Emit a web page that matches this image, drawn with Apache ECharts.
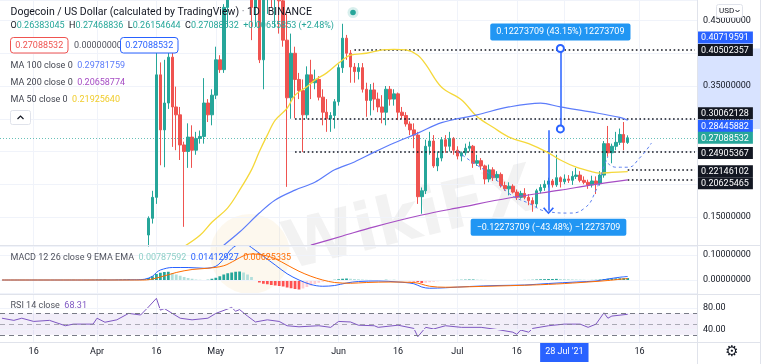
<!DOCTYPE html>
<html>
<head>
<meta charset="utf-8">
<script src="https://cdn.jsdelivr.net/npm/echarts@6.0.0/dist/echarts.min.js"></script>
<style>
html,body{margin:0;padding:0;background:#fff;overflow:hidden}
#chart{width:766px;height:364px}
</style>
</head>
<body>
<div id="chart"></div>
<script>
// ================= DATA =================
const firstDay = [2021, 2, 8];          // 8 Mar 2021 (UTC, month 0-based)
const dayCount = 176;                    // days shown on the time axis

// time-axis labels: date -> text
const tickLabels = {
  '2021-03-16': '16', '2021-04-01': 'Apr', '2021-04-16': '16', '2021-05-01': 'May',
  '2021-05-17': '17', '2021-06-01': 'Jun', '2021-06-16': '16', '2021-07-01': 'Jul',
  '2021-07-16': '16', '2021-07-28': "28 Jul '21", '2021-08-16': '16'
};
const crosshairDay = '2021-07-28';

// daily candles: [date, open, high, low, close]
const candles = [
  ['2021-04-14',0.1225,0.151,0.105,0.148],
  ['2021-04-15',0.148,0.19,0.14,0.18],
  ['2021-04-16',0.18,0.41,0.17,0.367],
  ['2021-04-17',0.367,0.386,0.229,0.283],
  ['2021-04-18',0.283,0.39,0.226,0.324],
  ['2021-04-19',0.324,0.405,0.315,0.394],
  ['2021-04-20',0.394,0.402,0.257,0.318],
  ['2021-04-21',0.318,0.349,0.252,0.306],
  ['2021-04-22',0.306,0.318,0.237,0.26],
  ['2021-04-23',0.26,0.265,0.135,0.25],
  ['2021-04-24',0.25,0.293,0.225,0.272],
  ['2021-04-25',0.272,0.29,0.225,0.252],
  ['2021-04-26',0.252,0.28,0.245,0.27],
  ['2021-04-27',0.27,0.282,0.262,0.273],
  ['2021-04-28',0.273,0.362,0.262,0.324],
  ['2021-04-29',0.324,0.33,0.295,0.306],
  ['2021-04-30',0.306,0.345,0.29,0.336],
  ['2021-05-01',0.336,0.41,0.33,0.39],
  ['2021-05-02',0.39,0.397,0.37,0.375],
  ['2021-05-03',0.375,0.475,0.37,0.47],
  ['2021-05-04',0.47,0.60,0.44,0.56],
  ['2021-05-05',0.56,0.64,0.50,0.58],
  ['2021-05-06',0.58,0.67,0.55,0.63],
  ['2021-05-07',0.63,0.70,0.60,0.68],
  ['2021-05-08',0.68,0.74,0.62,0.73],
  ['2021-05-09',0.73,0.74,0.52,0.57],
  ['2021-05-10',0.57,0.60,0.42,0.47],
  ['2021-05-11',0.47,0.52,0.44,0.50],
  ['2021-05-12',0.50,0.52,0.385,0.39],
  ['2021-05-13',0.39,0.52,0.345,0.50],
  ['2021-05-14',0.50,0.58,0.46,0.56],
  ['2021-05-15',0.56,0.58,0.47,0.50],
  ['2021-05-16',0.50,0.55,0.44,0.52],
  ['2021-05-17',0.52,0.53,0.43,0.48],
  ['2021-05-18',0.48,0.51,0.41,0.42],
  ['2021-05-19',0.42,0.46,0.196,0.332],
  ['2021-05-20',0.332,0.43,0.30,0.40],
  ['2021-05-21',0.40,0.41,0.3006,0.36],
  ['2021-05-22',0.36,0.37,0.33,0.343],
  ['2021-05-23',0.343,0.36,0.2491,0.306],
  ['2021-05-24',0.306,0.38,0.30,0.367],
  ['2021-05-25',0.367,0.39,0.33,0.355],
  ['2021-05-26',0.355,0.375,0.345,0.36],
  ['2021-05-27',0.36,0.365,0.328,0.333],
  ['2021-05-28',0.333,0.345,0.29,0.31],
  ['2021-05-29',0.31,0.33,0.28,0.30],
  ['2021-05-30',0.30,0.31,0.28,0.305],
  ['2021-05-31',0.305,0.33,0.285,0.326],
  ['2021-06-01',0.326,0.383,0.32,0.378],
  ['2021-06-02',0.378,0.445,0.37,0.423],
  ['2021-06-03',0.423,0.428,0.39,0.40],
  ['2021-06-04',0.40,0.405,0.355,0.379],
  ['2021-06-05',0.379,0.385,0.355,0.372],
  ['2021-06-06',0.372,0.385,0.36,0.378],
  ['2021-06-07',0.378,0.385,0.34,0.345],
  ['2021-06-08',0.345,0.355,0.303,0.328],
  ['2021-06-09',0.328,0.353,0.305,0.344],
  ['2021-06-10',0.344,0.355,0.313,0.33],
  ['2021-06-11',0.33,0.34,0.31,0.318],
  ['2021-06-12',0.318,0.336,0.293,0.31],
  ['2021-06-13',0.31,0.35,0.29,0.345],
  ['2021-06-14',0.345,0.35,0.32,0.33],
  ['2021-06-15',0.33,0.345,0.32,0.338],
  ['2021-06-16',0.338,0.34,0.298,0.31],
  ['2021-06-17',0.31,0.318,0.30,0.305],
  ['2021-06-18',0.305,0.31,0.288,0.292],
  ['2021-06-19',0.292,0.296,0.275,0.283],
  ['2021-06-20',0.283,0.293,0.255,0.275],
  ['2021-06-21',0.275,0.28,0.17,0.181],
  ['2021-06-22',0.181,0.195,0.155,0.19],
  ['2021-06-23',0.19,0.268,0.185,0.258],
  ['2021-06-24',0.258,0.28,0.245,0.266],
  ['2021-06-25',0.266,0.275,0.225,0.228],
  ['2021-06-26',0.228,0.25,0.22,0.24],
  ['2021-06-27',0.24,0.272,0.235,0.268],
  ['2021-06-28',0.268,0.275,0.248,0.258],
  ['2021-06-29',0.258,0.28,0.25,0.27],
  ['2021-06-30',0.27,0.272,0.245,0.252],
  ['2021-07-01',0.252,0.258,0.238,0.243],
  ['2021-07-02',0.243,0.25,0.235,0.248],
  ['2021-07-03',0.248,0.262,0.244,0.255],
  ['2021-07-04',0.255,0.265,0.25,0.258],
  ['2021-07-05',0.258,0.26,0.225,0.232],
  ['2021-07-06',0.232,0.245,0.228,0.236],
  ['2021-07-07',0.236,0.24,0.222,0.228],
  ['2021-07-08',0.228,0.23,0.20,0.208],
  ['2021-07-09',0.208,0.23,0.203,0.222],
  ['2021-07-10',0.222,0.226,0.205,0.21],
  ['2021-07-11',0.21,0.22,0.205,0.215],
  ['2021-07-12',0.215,0.218,0.195,0.198],
  ['2021-07-13',0.198,0.204,0.19,0.193],
  ['2021-07-14',0.193,0.203,0.183,0.197],
  ['2021-07-15',0.197,0.20,0.186,0.188],
  ['2021-07-16',0.188,0.192,0.176,0.18],
  ['2021-07-17',0.18,0.19,0.178,0.186],
  ['2021-07-18',0.186,0.194,0.177,0.18],
  ['2021-07-19',0.18,0.185,0.168,0.175],
  ['2021-07-20',0.175,0.18,0.158,0.17],
  ['2021-07-21',0.17,0.193,0.165,0.19],
  ['2021-07-22',0.19,0.20,0.186,0.195],
  ['2021-07-23',0.195,0.206,0.19,0.20],
  ['2021-07-24',0.20,0.21,0.195,0.205],
  ['2021-07-25',0.205,0.208,0.195,0.199],
  ['2021-07-26',0.199,0.245,0.196,0.21],
  ['2021-07-27',0.21,0.212,0.195,0.204],
  ['2021-07-28',0.204,0.215,0.20,0.208],
  ['2021-07-29',0.208,0.214,0.202,0.206],
  ['2021-07-30',0.206,0.22,0.199,0.212],
  ['2021-07-31',0.212,0.225,0.208,0.214],
  ['2021-08-01',0.214,0.22,0.203,0.206],
  ['2021-08-02',0.206,0.212,0.20,0.203],
  ['2021-08-03',0.203,0.207,0.193,0.199],
  ['2021-08-04',0.199,0.213,0.195,0.205],
  ['2021-08-05',0.205,0.212,0.185,0.201],
  ['2021-08-06',0.201,0.22,0.198,0.214],
  ['2021-08-07',0.214,0.266,0.21,0.262],
  ['2021-08-08',0.262,0.289,0.242,0.248],
  ['2021-08-09',0.248,0.262,0.232,0.258],
  ['2021-08-10',0.258,0.28,0.252,0.264],
  ['2021-08-11',0.264,0.285,0.26,0.276],
  ['2021-08-12',0.276,0.295,0.252,0.26383045],
  ['2021-08-13',0.26383045,0.27468836,0.26154644,0.27088532]
];

// moving averages: [date, value]
const ma50 = [['2021-04-23',0.105],['2021-04-27',0.122],['2021-04-30',0.142],['2021-05-04',0.164],['2021-05-07',0.191],
  ['2021-05-10',0.222],['2021-05-12',0.25],['2021-05-14',0.275],['2021-05-16',0.298],['2021-05-19',0.316],['2021-05-21',0.336],
  ['2021-05-24',0.349],['2021-05-26',0.359],['2021-05-29',0.37],['2021-06-01',0.385],['2021-06-04',0.397],['2021-06-08',0.40],
  ['2021-06-12',0.405],['2021-06-15',0.406],['2021-06-18',0.405],['2021-06-21',0.397],['2021-06-23',0.383],['2021-06-27',0.348],
  ['2021-07-02',0.329],['2021-07-06',0.303],['2021-07-10',0.287],['2021-07-14',0.272],['2021-07-19',0.262],['2021-07-24',0.248],
  ['2021-07-27',0.237],['2021-07-31',0.226],['2021-08-04',0.219],['2021-08-06',0.217],['2021-08-09',0.218],['2021-08-13',0.2192564]];
const ma100 = [['2021-05-03',0.107],['2021-05-07',0.127],['2021-05-12',0.156],['2021-05-16',0.176],['2021-05-21',0.191],
  ['2021-05-26',0.203],['2021-05-31',0.222],['2021-06-05',0.234],['2021-06-10',0.249],['2021-06-15',0.263],['2021-06-21',0.278],
  ['2021-06-27',0.294],['2021-07-06',0.306],['2021-07-14',0.318],['2021-07-22',0.324],['2021-07-27',0.318],['2021-08-04',0.31],
  ['2021-08-11',0.302],['2021-08-13',0.29781759]];
const ma200 = [['2021-05-25',0.107],['2021-06-02',0.121],['2021-06-10',0.135],['2021-06-22',0.153],['2021-07-02',0.165],
  ['2021-07-14',0.179],['2021-07-27',0.191],['2021-08-04',0.199],['2021-08-13',0.20658774]];

// MACD (12, 26, 9)
const macdLine = [['2021-03-08',0],['2021-03-28',0],['2021-04-11',0.001],['2021-04-13',0.003],['2021-04-15',0.015],
  ['2021-04-16',0.03],['2021-04-17',0.04],['2021-04-20',0.05],['2021-04-24',0.05],['2021-04-28',0.047],['2021-05-01',0.055],
  ['2021-05-03',0.085],['2021-05-05',0.125],['2021-05-07',0.145],['2021-05-08',0.149],['2021-05-10',0.13],['2021-05-13',0.095],
  ['2021-05-16',0.06],['2021-05-19',0.025],['2021-05-22',0.0],['2021-05-25',-0.018],['2021-05-28',-0.025],['2021-05-31',-0.022],
  ['2021-06-03',-0.012],['2021-06-06',-0.006],['2021-06-11',-0.004],['2021-06-16',-0.008],['2021-06-20',-0.015],
  ['2021-06-22',-0.028],['2021-06-24',-0.033],['2021-06-28',-0.031],['2021-07-04',-0.026],['2021-07-11',-0.022],
  ['2021-07-18',-0.02],['2021-07-24',-0.014],['2021-07-31',-0.008],['2021-08-05',-0.004],['2021-08-08',0.004],
  ['2021-08-11',0.011],['2021-08-13',0.01412927]];
const signalLine = [['2021-03-08',0],['2021-04-13',0],['2021-04-17',0.012],['2021-04-21',0.03],['2021-04-25',0.042],
  ['2021-04-29',0.047],['2021-05-03',0.057],['2021-05-06',0.08],['2021-05-08',0.097],['2021-05-10',0.104],['2021-05-13',0.1],
  ['2021-05-16',0.085],['2021-05-19',0.06],['2021-05-22',0.035],['2021-05-25',0.015],['2021-05-28',0.0],['2021-05-31',-0.01],
  ['2021-06-04',-0.013],['2021-06-08',-0.01],['2021-06-14',-0.008],['2021-06-20',-0.01],['2021-06-24',-0.025],
  ['2021-06-28',-0.029],['2021-07-04',-0.027],['2021-07-11',-0.024],['2021-07-18',-0.021],['2021-07-26',-0.016],
  ['2021-08-03',-0.008],['2021-08-08',-0.002],['2021-08-13',0.00625335]];
// histogram, one value per day from 8 Mar 2021
const macdHist = [
  -0.001,-0.0015,-0.001,-0.0008,-0.001,-0.0012,-0.001,-0.0008,-0.0005,-0.0008,-0.001,-0.0012,-0.001,-0.0008,-0.0005,-0.0003,-0.0002,
  0.0002,0.0003,-0.0002,0.0001,0.0002,0.0003,
  0.0005,0.0008,0.001,0.0012,0.001,0.0008,0.001,0.0015,0.002,0.0025,0.002,0.0018,0.002,
  0.003,0.008,0.015,0.024,0.029,0.032,0.033,0.028,0.022,0.017,0.012,0.008,0.005,0.002,0.001,-0.001,0.001,0.005,0.009,0.015,
  0.022,0.027,0.03,0.033,0.034,0.03,0.022,0.012,
  -0.002,-0.01,-0.015,-0.017,-0.02,-0.022,-0.024,-0.026,-0.03,-0.033,-0.036,-0.038,-0.034,-0.028,-0.022,-0.016,-0.011,-0.007,
  -0.004,-0.002,0.001,0.003,0.005,0.006,0.005,0.004,0.003,0.002,0.001,0.0005,-0.001,-0.002,-0.002,0.001,0.0005,0.0005,
  -0.002,-0.003,-0.004,-0.005,-0.006,
  -0.008,-0.012,-0.011,-0.009,-0.007,-0.005,-0.003,-0.002,-0.001,0.0002,0.0005,
  0.001,0.0015,0.002,0.002,0.0015,0.001,0.0005,-0.0005,-0.001,-0.0015,-0.002,-0.002,-0.0015,-0.0015,-0.001,-0.0005,0.0005,
  0.0005,0.001,0.002,0.003,0.0035,0.004,0.004,0.0045,0.004,0.0035,0.003,0.0025,0.002,0.0015,0.001,0.0005,0.0005,0.001,
  0.002,0.004,0.005,0.006,0.0065,0.007,0.0075,0.00787592
];

// RSI 14
const rsi = [['2021-03-08',61],['2021-03-11',57],['2021-03-13',61],['2021-03-16',55],['2021-03-20',57],['2021-03-24',47],
  ['2021-03-26',50],['2021-03-31',50],['2021-04-01',61],['2021-04-03',53.5],['2021-04-06',58],['2021-04-09',70],
  ['2021-04-12',67],['2021-04-14',82],['2021-04-16',98],['2021-04-17',76],['2021-04-18',79],['2021-04-20',70],
  ['2021-04-22',61],['2021-04-25',58],['2021-04-29',61],['2021-05-01',70],['2021-05-05',81],['2021-05-06',74],
  ['2021-05-07',77],['2021-05-09',65],['2021-05-11',54],['2021-05-14',58],['2021-05-17',55],['2021-05-19',47],
  ['2021-05-22',45],['2021-05-27',47],['2021-05-30',44],['2021-06-01',55],['2021-06-04',54],['2021-06-06',48],
  ['2021-06-10',47],['2021-06-11',44],['2021-06-16',48],['2021-06-20',42],['2021-06-21',26.6],['2021-06-23',44],
  ['2021-06-25',41],['2021-06-28',47],['2021-07-02',44],['2021-07-07',44],['2021-07-11',40],['2021-07-15',35],
  ['2021-07-16',31],['2021-07-17',39],['2021-07-19',35],['2021-07-20',42],['2021-07-24',47],['2021-07-28',50],
  ['2021-08-01',50],['2021-08-03',44],['2021-08-05',50],['2021-08-07',71],['2021-08-08',61],['2021-08-09',65],
  ['2021-08-13',68.31]];

// drawing tools on the price pane
const levelValues = [0.40502357, 0.30062128, 0.24905367, 0.22146102, 0.20625465];
const levelStarts = ['2021-06-05', '2021-05-21', '2021-05-21', '2021-08-13', '2021-08-13'];
const lastPrice = 0.27088532;
const rangeUp = { day: '2021-07-27', from: 0.28445882, to: 0.40719591, text: '0.12273709 (43.15%) 12273709' };
const rangeDown = { day: '2021-07-24', from: 0.28226, to: 0.15952, text: '\u22120.12273709 (\u221243.48%) \u221212273709' };
// dashed "cup and handle" arcs: [day number from 8 Mar, price]
const cupArc = [[114.8,0.25],[118.2,0.237],[124.1,0.2115],[128.3,0.186],[132.5,0.171],[137.6,0.158],[142.6,0.156],
  [146.8,0.163],[150.2,0.191],[152.3,0.227],[153.1,0.242]];
const handleArc = [[153.1,0.232],[155.3,0.226],[157.8,0.226],[161.1,0.24],[163.6,0.263]];

// ================= CHART =================
const FONT = 'Roboto, "Noto Sans", "DejaVu Sans", sans-serif';
const F9 = '9px ' + FONT;
const UP = '#26a69a', DOWN = '#ef5350';

const dates = [];
for (let i = 0; i < dayCount; i++) {
  dates.push(new Date(Date.UTC(firstDay[0], firstDay[1], firstDay[2] + i)).toISOString().slice(0, 10));
}
const candleMap = {};
candles.forEach(r => { candleMap[r[0]] = r; });
const candleData = dates.map(d => { const r = candleMap[d]; return r ? [r[1], r[4], r[3], r[2]] : '-'; });
const histData = dates.map((d, i) => i < macdHist.length ? macdHist[i] : '-');

const isTick = (i) => tickLabels[dates[i]] !== undefined;
const near = (v, step) => Math.abs(v / step - Math.round(v / step)) < 1e-6;

// price-pane y scale: top edge 0.4813, bottom edge 0.10725
const PMIN = 0.10725, PMAX = 0.4813;

function xAxisFor(gi) {
  return {
    type: 'category', gridIndex: gi, data: dates, boundaryGap: true,
    axisLine: { show: false }, axisTick: { show: false }, axisLabel: { show: false },
    splitLine: { show: gi < 3, interval: (i) => isTick(i), alignWithLabel: true, lineStyle: { color: '#f0f3fa', width: 1 } }
  };
}

function priceTag(value, bg, shift) {
  // shift: vertical displacement of the tag (px); realised with an invisible spacer line
  const g = Math.abs(shift) * 2;
  let txt = '{a|' + value.toFixed(8) + '}';
  if (shift < 0) txt = txt + '\n{g|}';
  if (shift > 0) txt = '{g|}\n' + txt;
  return {
    yAxis: value,
    lineStyle: { color: 'rgba(0,0,0,0)', width: 1 },
    label: {
      show: true, position: 'end', distance: 0, formatter: txt,
      rich: {
        a: { color: '#fff', backgroundColor: bg, padding: [2, 4, 1, 4], fontSize: 9, fontFamily: FONT, lineHeight: 13 },
        g: { height: g, lineHeight: g, width: 1 }
      }
    }
  };
}

const chevron = 'path://M5,0 L10,7 L8.8,8 L5,2.2 L1.2,8 L0,7 Z';
const drawMarks = [];
levelValues.forEach((v, k) => {
  drawMarks.push([
    { coord: [levelStarts[k], v], lineStyle: { color: '#131722', width: 1.6, type: [1.6, 2.6] }, label: { show: false } },
    { coord: [dates[dates.length - 1], v] }
  ]);
});
// last price line
drawMarks.push({
  yAxis: lastPrice, lineStyle: { color: UP, width: 1, type: [1, 2], opacity: 0.7 },
  label: { show: false }
});
// measure tool up
drawMarks.push([
  { coord: [rangeUp.day, rangeUp.from], symbol: 'emptyCircle', symbolSize: 7,
    lineStyle: { color: '#2962ff', width: 1.5, type: 'solid' },
    label: { show: true, position: 'end', distance: 8, formatter: rangeUp.text, color: '#fff',
      backgroundColor: '#2196f3', padding: [4, 6, 4, 6], borderRadius: 2, fontSize: 9, fontFamily: FONT } },
  { coord: [rangeUp.day, rangeUp.to], symbol: 'emptyCircle', symbolSize: 7 }
]);
drawMarks.push([
  { coord: [rangeUp.day, rangeUp.from], symbol: 'none', lineStyle: { color: 'rgba(0,0,0,0)' }, label: { show: false } },
  { coord: [rangeUp.day, rangeUp.to], symbol: chevron, symbolSize: [11, 7], symbolOffset: [0, 4] }
]);
// measure tool down
drawMarks.push([
  { coord: [rangeDown.day, rangeDown.from], symbol: 'none',
    lineStyle: { color: '#2962ff', width: 1.5, type: 'solid' },
    label: { show: true, position: 'end', distance: 8, formatter: rangeDown.text, color: '#fff',
      backgroundColor: '#2196f3', padding: [4, 6, 4, 6], borderRadius: 2, fontSize: 9, fontFamily: FONT } },
  { coord: [rangeDown.day, rangeDown.to], symbol: chevron, symbolSize: [11, 7] }
]);
// price tags on the axis
drawMarks.push(priceTag(rangeUp.to, '#2962ff', -11));
drawMarks.push(priceTag(levelValues[0], '#131722', 0));
drawMarks.push(priceTag(levelValues[1], '#131722', -5));
drawMarks.push(priceTag(rangeUp.from, '#2962ff', -3));
drawMarks.push(priceTag(lastPrice, UP, 0));
drawMarks.push(priceTag(levelValues[2], '#131722', 1));
drawMarks.push(priceTag(levelValues[3], '#131722', 1));
drawMarks.push(priceTag(levelValues[4], '#131722', 3));

function histColor(p) {
  const i = p.dataIndex, v = macdHist[i], prev = i > 0 ? macdHist[i - 1] : v;
  if (v >= 0) return v >= prev ? '#26a69a' : '#b2dfdb';
  return v <= prev ? '#ff5252' : '#ffcdd2';
}

function text(x, y, str, rich, extra) {
  return Object.assign({ type: 'text', x: x, y: y, z: 40, silent: true,
    style: { text: str, rich: rich || {}, font: F9, fill: '#131722', verticalAlign: 'middle' } }, extra || {});
}
const tok = (fill, font) => ({ fill: fill, font: font || F9 });
const sepStyle = { stroke: '#e0e3eb', lineWidth: 1 };

const option = {
  animation: false,
  backgroundColor: '#ffffff',
  textStyle: { fontFamily: FONT },
  grid: [
    { left: 0, right: 69, top: 0, height: 245 },
    { left: 0, right: 69, top: 246, height: 47 },
    { left: 0, right: 69, top: 295, height: 47 },
    { left: 0, right: 69, top: 341.5, height: 0.5 },
    { left: 697, right: 6, top: 0, height: 245 }
  ],
  xAxis: [
    xAxisFor(0), xAxisFor(1), xAxisFor(2),
    {
      type: 'category', gridIndex: 3, data: dates, boundaryGap: true,
      axisLine: { show: false }, axisTick: { show: false }, splitLine: { show: false },
      axisLabel: {
        show: true, margin: 0, interval: (i) => isTick(i),
        formatter: (v) => (v === crosshairDay ? '{h|' : '{n|') + (tickLabels[v] || '') + '}',
        rich: {
          n: { fontSize: 9, color: '#131722', height: 20, lineHeight: 20, fontFamily: FONT },
          h: { fontSize: 9, color: '#ffffff', backgroundColor: '#2962ff', height: 20, lineHeight: 20, padding: [0, 5], fontFamily: FONT }
        }
      }
    },
    { type: 'value', gridIndex: 4, min: 0, max: 1, show: false }
  ],
  yAxis: [
    {
      type: 'value', gridIndex: 0, position: 'right', min: PMIN, max: PMAX, splitNumber: 7, z: 3,
      axisLine: { show: false }, axisTick: { show: false },
      axisLabel: { margin: 6, fontSize: 9, color: '#131722', fontFamily: FONT, showMinLabel: false, showMaxLabel: false,
        formatter: (v) => near(v, 0.05) ? v.toFixed(8) : '' },
      splitLine: { lineStyle: { color: '#f0f3fa' } }
    },
    {
      type: 'value', gridIndex: 1, position: 'right', min: -0.052, max: 0.136, splitNumber: 2, z: 3,
      axisLine: { show: false }, axisTick: { show: false },
      axisLabel: { margin: 6, fontSize: 9, color: '#131722', fontFamily: FONT, showMinLabel: false, showMaxLabel: false,
        formatter: (v) => near(v, 0.1) ? v.toFixed(8) : '' },
      splitLine: { lineStyle: { color: '#f0f3fa' } }
    },
    {
      type: 'value', gridIndex: 2, position: 'right', min: 16.74, max: 104.19, splitNumber: 4, z: 3,
      axisLine: { show: false }, axisTick: { show: false },
      axisLabel: { margin: 6, fontSize: 9, color: '#131722', fontFamily: FONT, showMinLabel: false, showMaxLabel: false,
        formatter: (v) => (Math.abs(v - 40) < 1e-6 || Math.abs(v - 80) < 1e-6) ? v.toFixed(2) : '' },
      splitLine: { show: false }
    },
    { type: 'value', gridIndex: 3, show: false },
    { type: 'value', gridIndex: 4, min: PMIN, max: PMAX, show: false }
  ],
  series: [
    {
      name: 'axisBand', type: 'line', xAxisIndex: 4, yAxisIndex: 4, data: [], z: 1, silent: true,
      markArea: { silent: true, itemStyle: { color: 'rgba(41,98,255,0.18)' },
        data: [[{ yAxis: rangeUp.from }, { yAxis: rangeUp.to }]] }
    },
    {
      name: 'DOGEUSD', type: 'candlestick', xAxisIndex: 0, yAxisIndex: 0, data: candleData, barWidth: 3, z: 4,
      clip: true,
      itemStyle: { color: UP, color0: DOWN, borderColor: UP, borderColor0: DOWN, borderWidth: 1 }
    },
    { name: 'MA 50', type: 'line', xAxisIndex: 0, yAxisIndex: 0, data: ma50, smooth: 0.35, symbol: 'none', clip: true, z: 5,
      lineStyle: { color: '#f5d83a', width: 1.3 } },
    { name: 'MA 100', type: 'line', xAxisIndex: 0, yAxisIndex: 0, data: ma100, smooth: 0.35, symbol: 'none', clip: true, z: 5,
      lineStyle: { color: '#5c7cfa', width: 1.2 } },
    { name: 'MA 200', type: 'line', xAxisIndex: 0, yAxisIndex: 0, data: ma200, smooth: 0.35, symbol: 'none', clip: true, z: 5,
      lineStyle: { color: '#a64dc4', width: 1.2 } },
    { name: 'cup', type: 'line', xAxisIndex: 0, yAxisIndex: 0, data: cupArc, smooth: 0.5, symbol: 'none', z: 5,
      lineStyle: { color: '#5b7ff0', width: 1, type: [3, 3] } },
    { name: 'handle', type: 'line', xAxisIndex: 0, yAxisIndex: 0, data: handleArc, smooth: 0.5, symbol: 'none', z: 5,
      lineStyle: { color: '#5b7ff0', width: 1, type: [3, 3] } },
    {
      name: 'drawings', type: 'line', xAxisIndex: 0, yAxisIndex: 0, data: [], clip: false, z: 8, silent: true,
      markLine: { silent: true, symbol: ['none', 'none'], precision: 8, data: drawMarks }
    },
    { name: 'Histogram', type: 'bar', xAxisIndex: 1, yAxisIndex: 1, data: histData, barWidth: '70%',
      itemStyle: { color: histColor } },
    { name: 'MACD', type: 'line', xAxisIndex: 1, yAxisIndex: 1, data: macdLine, smooth: 0.35, symbol: 'none',
      lineStyle: { color: '#2962ff', width: 1 } },
    { name: 'Signal', type: 'line', xAxisIndex: 1, yAxisIndex: 1, data: signalLine, smooth: 0.35, symbol: 'none',
      lineStyle: { color: '#ff6d00', width: 1 } },
    {
      name: 'RSI', type: 'line', xAxisIndex: 2, yAxisIndex: 2, data: rsi, symbol: 'none',
      lineStyle: { color: '#7e57c2', width: 1 },
      markArea: { silent: true, itemStyle: { color: 'rgba(126,87,194,0.10)' }, data: [[{ yAxis: 70 }, { yAxis: 30 }]] },
      markLine: { silent: true, symbol: ['none', 'none'], label: { show: false },
        data: [
          { yAxis: 80, lineStyle: { color: '#f0f3fa', type: 'solid', width: 1 } },
          { yAxis: 40, lineStyle: { color: '#f0f3fa', type: 'solid', width: 1 } },
          { yAxis: 70, lineStyle: { color: '#787b86', type: [5, 4], width: 1 } },
          { yAxis: 50, lineStyle: { color: '#787b86', type: [5, 4], width: 1, opacity: 0.6 } },
          { yAxis: 30, lineStyle: { color: '#787b86', type: [5, 4], width: 1 } }
        ] }
    }
  ],
  graphic: [
    // watermark
    { type: 'circle', z: 1, silent: true, shape: { cx: 250, cy: 254, r: 40 }, style: { fill: 'rgba(232,186,90,0.10)' } },
    { type: 'text', z: 1, silent: true, x: 410, y: 222, rotation: 0.24,
      style: { text: 'WikiFX', font: 'bold 66px "DejaVu Sans"', fill: 'rgba(90,90,90,0.08)', align: 'center', verticalAlign: 'middle' } },
    // pane separators
    { type: 'line', z: 30, silent: true, shape: { x1: 0, y1: 245.5, x2: 760, y2: 245.5 }, style: sepStyle },
    { type: 'line', z: 30, silent: true, shape: { x1: 0, y1: 294.5, x2: 760, y2: 294.5 }, style: sepStyle },
    { type: 'line', z: 30, silent: true, shape: { x1: 0, y1: 342.5, x2: 760, y2: 342.5 }, style: sepStyle },
    { type: 'line', z: 30, silent: true, shape: { x1: 697.5, y1: 0, x2: 697.5, y2: 364 }, style: sepStyle },
    { type: 'line', z: 30, silent: true, shape: { x1: 760.5, y1: 0, x2: 760.5, y2: 364 }, style: sepStyle },
    // header
    text(10.5, 12.5, 'Dogecoin / US Dollar (calculated by TradingView) {d|\u00b7} 1D {d|\u00b7} BINANCE',
      { d: tok('#787b86', '10.5px ' + FONT) }, { style: { text: 'Dogecoin / US Dollar (calculated by TradingView) {d|\u00b7} 1D {d|\u00b7} BINANCE',
        rich: { d: tok('#787b86', '10.5px ' + FONT) }, font: '10.5px ' + FONT, fill: '#131722', verticalAlign: 'middle' } }),
    { type: 'circle', z: 40, silent: true, shape: { cx: 353, cy: 12.5, r: 5.5 }, style: { fill: 'rgba(38,166,154,0.18)' } },
    { type: 'circle', z: 41, silent: true, shape: { cx: 353, cy: 12.5, r: 2.8 }, style: { fill: UP } },
    text(10.5, 26, '{k|O}{v|0.26383045}  {k|H}{v|0.27468836}  {k|L}{v|0.26154644}  {k|C}{v|0.27088532}  {v|+0.00655853 (+2.48%)}',
      { k: tok('#131722'), v: tok(UP) }),
    { type: 'rect', z: 40, silent: true, shape: { x: 10.5, y: 37.5, width: 57.5, height: 15.5, r: 3 }, style: { fill: '#fff', stroke: DOWN, lineWidth: 1 } },
    text(39.25, 45.5, '0.27088532', null, { z: 41, style: { text: '0.27088532', font: F9, fill: DOWN, align: 'center', verticalAlign: 'middle' } }),
    text(74, 45.5, '0.00000000', null, { style: { text: '0.00000000', font: F9, fill: '#50535e', verticalAlign: 'middle' } }),
    { type: 'rect', z: 40, silent: true, shape: { x: 120.5, y: 37.5, width: 57.5, height: 15.5, r: 3 }, style: { fill: '#fff', stroke: '#2962ff', lineWidth: 1 } },
    text(149.25, 45.5, '0.27088532', null, { z: 41, style: { text: '0.27088532', font: F9, fill: '#2962ff', align: 'center', verticalAlign: 'middle' } }),
    text(10.5, 65.5, '{k|MA 100 close 0}  {v|0.29781759}', { k: tok('#434651'), v: tok('#5c7cfa') }),
    text(10.5, 82.5, '{k|MA 200 close 0}  {v|0.20658774}', { k: tok('#434651'), v: tok('#a64dc4') }),
    text(10.5, 99.5, '{k|MA 50 close 0}  {v|0.21925640}', { k: tok('#434651'), v: tok('#f0cc2c') }),
    { type: 'rect', z: 40, silent: true, shape: { x: 10.5, y: 110.5, width: 20, height: 14, r: 2 }, style: { fill: '#fff', stroke: '#e0e3eb', lineWidth: 1 } },
    { type: 'polyline', z: 41, silent: true, shape: { points: [[17.5, 119], [20.5, 116], [23.5, 119]] }, style: { stroke: '#131722', lineWidth: 1.2, fill: null } },
    // MACD / RSI legends
    text(10.5, 257.5, '{k|MACD 12 26 close 9 EMA EMA}  {h|0.00787592}  {m|0.01412927}  {s|0.00625335}',
      { k: tok('#50535e'), h: tok('#8fd0c8'), m: tok('#2962ff'), s: tok('#ff6d00') }),
    text(10.5, 306, '{k|RSI 14 close}  {r|68.31}', { k: tok('#50535e'), r: tok('#7e57c2') }),
    // top-right currency box
    { type: 'rect', z: 40, silent: true, shape: { x: 716.5, y: 4.5, width: 26, height: 13, r: 2 }, style: { fill: '#fff', stroke: '#e0e3eb', lineWidth: 1 } },
    text(719, 11, 'USD', null, { z: 41, style: { text: 'USD', font: '8px ' + FONT, fill: '#131722', verticalAlign: 'middle' } }),
    { type: 'polyline', z: 41, silent: true, shape: { points: [[735.5, 10], [737.5, 12], [739.5, 10]] }, style: { stroke: '#131722', lineWidth: 1, fill: null } },
    // settings gear
    text(732, 352, '\u2699', null, { style: { text: '\u2699', font: '15px "DejaVu Sans"', fill: '#131722', align: 'center', verticalAlign: 'middle' } })
  ]
};

const chart = echarts.init(document.getElementById('chart'), null, { renderer: 'canvas' });
chart.setOption(option);
</script>
</body>
</html>
